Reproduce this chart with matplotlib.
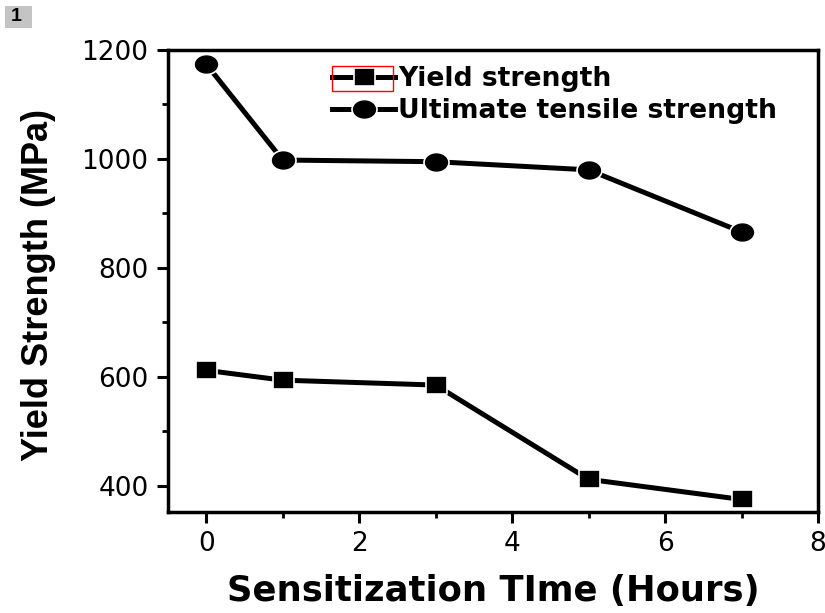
import matplotlib
matplotlib.use("Agg")
import numpy as np
import matplotlib.pyplot as plt
from matplotlib.ticker import MultipleLocator
from matplotlib.patches import Rectangle
from matplotlib.path import Path

hours = [0, 1, 3, 5, 7]
yield_strength = [612, 594, 585, 412, 375]
uts = [1174, 998, 995, 980, 866]

plt.rcParams['font.family'] = ['DejaVu Sans']

# slightly wide markers (reference image is horizontally stretched)
t = np.linspace(0, 2 * np.pi, 60)
ellipse = Path(np.column_stack([1.25 * np.cos(t), np.sin(t)]), closed=True)
wide_sq = Path([(-1.22, -1), (1.22, -1), (1.22, 1), (-1.22, 1), (-1.22, -1)], closed=True)

fig = plt.figure(figsize=(8.25, 6.13), dpi=100)
ax = fig.add_axes([168/825, 1-512/613, (818-168)/825, (512-50)/613])

px = 72 / 100
ax.plot(hours, yield_strength, color='black', lw=5*px, marker=wide_sq, ms=21*px,
        mec='white', mew=1.2, label='Yield strength')
ax.plot(hours, uts, color='black', lw=5*px, marker=ellipse, ms=25*px,
        mec='white', mew=1.2, label='Ultimate tensile strength')

ax.set_xlim(-0.5, 8)
ax.set_ylim(352, 1200)
ax.xaxis.set_major_locator(MultipleLocator(2))
ax.xaxis.set_minor_locator(MultipleLocator(1))
ax.yaxis.set_major_locator(MultipleLocator(200))
ax.yaxis.set_minor_locator(MultipleLocator(100))
ax.tick_params(which='major', direction='out', length=8, width=2.2, labelsize=19, pad=6)
ax.tick_params(which='minor', direction='out', length=4, width=2)
for s in ax.spines.values():
    s.set_linewidth(2.5)

ax.set_xlabel('Sensitization TIme (Hours)', fontsize=25.5, fontweight='bold', labelpad=12)
ax.set_ylabel('Yield Strength (MPa)', fontsize=26, fontweight='bold',
              family=['Liberation Sans', 'DejaVu Sans'])
ax.yaxis.set_label_coords((56.5 - 168) / 650, 1 - (285 - 50) / 462)

leg = ax.legend(loc='upper left', bbox_to_anchor=(332/825, 1-66/613),
                bbox_transform=fig.transFigure, frameon=False,
                prop={'size': 19.2, 'weight': 'bold'}, handlelength=2.37,
                handletextpad=0.12, labelspacing=0.22, borderaxespad=0, borderpad=0)

fig.patches.append(Rectangle((332/825, 1-91/613), 61/825, 25/613,
                             transform=fig.transFigure, fill=False,
                             edgecolor='red', lw=1))

fig.patches.append(Rectangle((5/825, 1-28/613), 27/825, 22/613,
                             transform=fig.transFigure, facecolor='#c4c4c4',
                             edgecolor='none'))
fig.text(16/825, 1-16.5/613, '1', fontsize=14, fontweight='bold', ha='center', va='center',
         family=['Liberation Sans', 'DejaVu Sans'])

fig.savefig('out.png', dpi=100)
